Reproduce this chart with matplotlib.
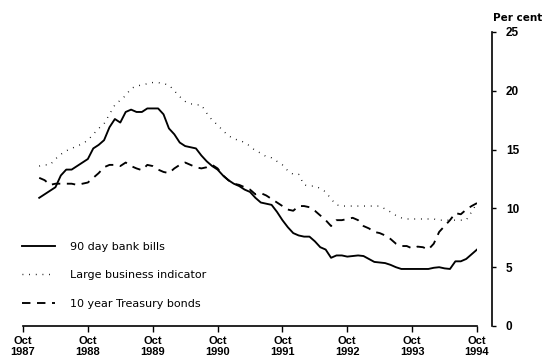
import matplotlib
matplotlib.use("Agg")
import matplotlib.pyplot as plt
import numpy as np

# Monthly data, Jan 1988 .. Oct 1994 (months since Oct 1987: 3..84)
start_month = 3
bank_bills = [10.9, 11.2, 11.5, 11.8, 12.8, 13.3, 13.3, 13.6, 13.9, 14.2,
              15.1, 15.4, 15.8, 16.9, 17.6, 17.3, 18.2, 18.4, 18.2, 18.2,
              18.5, 18.5, 18.5, 18.0, 16.8, 16.3, 15.6, 15.3, 15.2, 15.1,
              14.5, 14.0, 13.6, 13.3, 12.8, 12.4, 12.1, 11.9, 11.6, 11.4,
              10.9, 10.5, 10.4, 10.3, 9.7, 9.0, 8.4, 7.9, 7.7, 7.6,
              7.6, 7.2, 6.7, 6.5, 5.8, 6.0, 6.0, 5.9, 5.95, 6.0,
              5.95, 5.7, 5.45, 5.4, 5.35, 5.2, 5.0, 4.85, 4.85, 4.85,
              4.85, 4.85, 4.85, 4.95, 5.0, 4.9, 4.85, 5.5, 5.5, 5.7,
              6.1, 6.5]
large_business = [13.6, 13.7, 13.7, 14.2, 14.6, 14.9, 15.1, 15.3, 15.5, 15.8,
                  16.3, 16.8, 17.2, 18.0, 18.8, 19.2, 19.6, 20.2, 20.4, 20.5,
                  20.6, 20.7, 20.7, 20.6, 20.5, 20.0, 19.5, 19.1, 18.9, 18.8,
                  18.8, 18.1, 17.5, 17.1, 16.6, 16.2, 15.9, 15.8, 15.6, 15.3,
                  14.9, 14.7, 14.4, 14.3, 14.0, 13.7, 13.2, 12.9, 12.9, 12.0,
                  11.9, 11.9, 11.7, 11.4, 10.8, 10.3, 10.2, 10.2, 10.2, 10.2,
                  10.2, 10.2, 10.2, 10.2, 9.95, 9.7, 9.4, 9.2, 9.1, 9.1,
                  9.1, 9.1, 9.1, 9.1, 9.0, 9.0, 9.0, 9.0, 9.0, 9.0,
                  9.7, 10.45]
treasury_10y = [12.6, 12.4, 12.0, 12.1, 12.1, 12.1, 12.1, 12.0, 12.1, 12.2,
                12.6, 13.0, 13.5, 13.7, 13.7, 13.6, 13.9, 13.6, 13.4, 13.25,
                13.7, 13.6, 13.3, 13.1, 13.0, 13.4, 13.7, 13.9, 13.7, 13.5,
                13.4, 13.5, 13.7, 13.4, 12.8, 12.4, 12.1, 12.0, 11.8, 11.6,
                11.2, 11.3, 11.1, 10.8, 10.5, 10.2, 9.9, 9.8, 10.2, 10.2,
                10.1, 9.8, 9.4, 9.0, 8.5, 9.0, 9.0, 9.1, 9.2, 9.0,
                8.5, 8.3, 8.0, 7.9, 7.7, 7.4, 7.0, 6.8, 6.8, 6.6,
                6.75, 6.7, 6.5, 7.0, 8.0, 8.5, 9.0, 9.6, 9.5, 9.9,
                10.2, 10.45]
series_labels = ["90 day bank bills", "Large business indicator", "10 year Treasury bonds"]
tick_years = [1987, 1988, 1989, 1990, 1991, 1992, 1993, 1994]
y_ticks = [0, 5, 10, 15, 20, 25]

W, H = 543, 361
fig = plt.figure(figsize=(W / 100, H / 100), dpi=100)
x0, x1, ytop, ybot = 23, 477, 32, 326
ax = fig.add_axes([x0 / W, 1 - ybot / H, (x1 - x0) / W, (ybot - ytop) / H])

months = np.arange(start_month, start_month + len(bank_bills))
ax.plot(months, bank_bills, color="black", lw=1.35, label=series_labels[0])
ax.plot(months, large_business, color="black", lw=1.0, linestyle=(0, (0.6, 4.2)),
        label=series_labels[1])
ax.plot(months, treasury_10y, color="black", lw=1.35, linestyle=(0, (4.5, 3.5)),
        label=series_labels[2])

ax.set_xlim(0, 84)
ax.set_ylim(0, 25)

tick_font = ["Liberation Sans", "DejaVu Sans"]
ax.set_xticks([12 * i for i in range(len(tick_years))])
ax.set_xticklabels([f"Oct\n{y}" for y in tick_years])
ax.tick_params(axis="x", direction="out", length=4, width=1, pad=3.5)

ax.yaxis.tick_right()
ax.set_yticks(y_ticks)
ax.set_yticklabels([str(v) for v in y_ticks])
ax.tick_params(axis="y", direction="out", length=3, width=1, pad=7)

for s in ["top", "left"]:
    ax.spines[s].set_visible(False)
ax.spines["right"].set_position(("outward", 15 * 72 / 100))
ax.spines["right"].set_linewidth(1.2)
ax.spines["bottom"].set_linewidth(1.2)

fig.text(493 / W, 1 - 18 / H, "Per cent", fontsize=7.5, fontweight="bold",
         family="DejaVu Sans", ha="left", va="center")

ax.legend(loc="upper left", bbox_to_anchor=(22 / W, 1 - 242 / H),
          bbox_transform=fig.transFigure, frameon=False, borderpad=0,
          borderaxespad=0, handlelength=3.0, handletextpad=1.3,
          labelspacing=1.65, prop={"family": "DejaVu Sans", "size": 8})

fig.canvas.draw()
for t in ax.xaxis.get_major_ticks():
    t.label1.set_fontsize(8)
    t.label1.set_fontweight("bold")
    t.label1.set_family(tick_font)
    t.label1.set_linespacing(1.05)
for t in ax.yaxis.get_major_ticks():
    t.label2.set_fontsize(8.5)
    t.label2.set_fontweight("bold")
    t.label2.set_family(tick_font)

fig.savefig("out.png", dpi=100)
